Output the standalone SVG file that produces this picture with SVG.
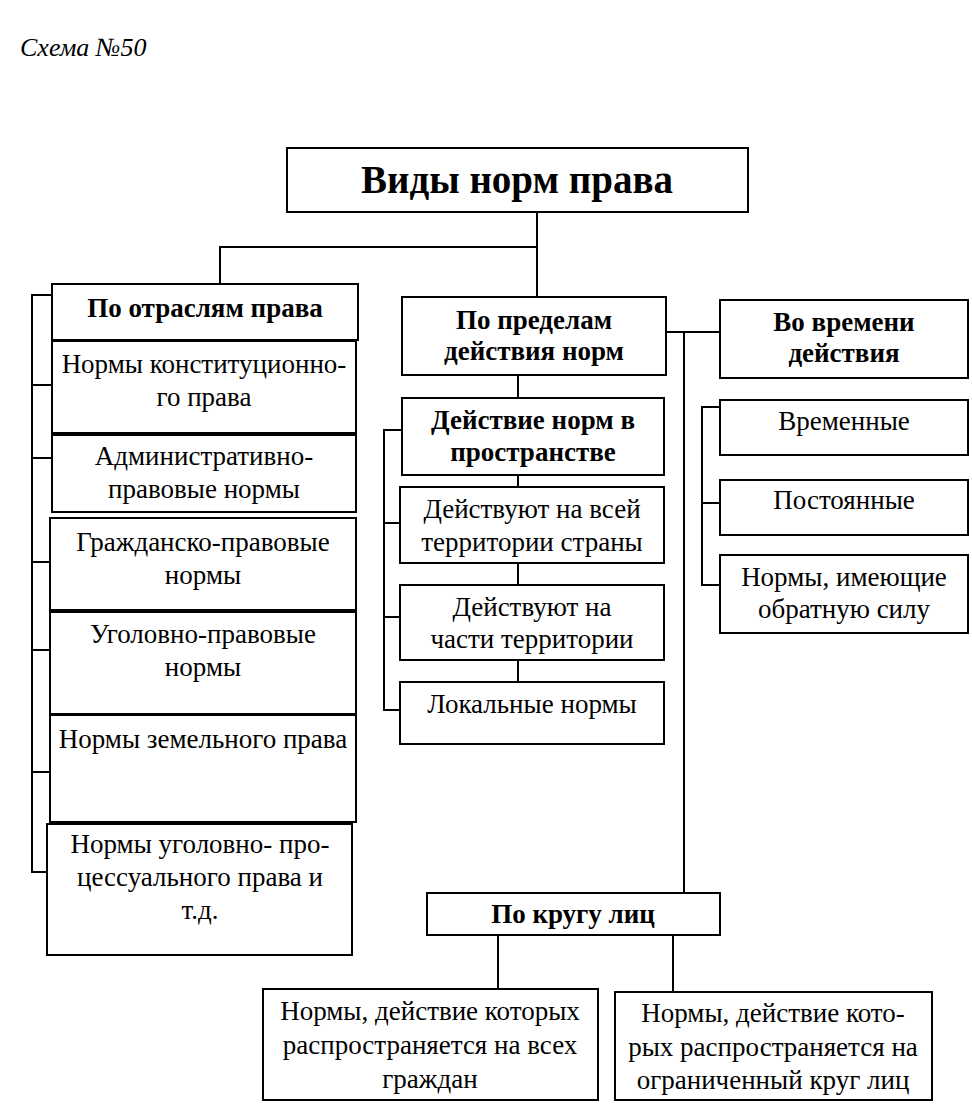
<svg xmlns="http://www.w3.org/2000/svg" width="972" height="1104" viewBox="0 0 972 1104">
<style>
.box{fill:#fff;stroke:#000;stroke-width:2}
.ln{fill:none;stroke:#000;stroke-width:2}
text{font-family:"Liberation Serif","Times New Roman",serif;fill:#000;text-anchor:middle}
.r{font-size:27px}
.b{font-size:27px;font-weight:bold}
.t{font-size:39px;font-weight:bold}
.cap{font-size:26px;font-style:italic;text-anchor:start}
</style>
<rect width="972" height="1104" fill="#fff"/>
<text class="cap" x="20" y="56">Схема №50</text>
<g id="connectors">
<path class="ln" d="M537 212V297M537 247H220V284"/>
<path class="ln" d="M52 295H32V872H50M32 385H52M32 458H52M32 562H50M32 650H50M32 772H50"/>
<path class="ln" d="M518 375V398M518 475V487M518 563V585M518 660V682"/>
<path class="ln" d="M402 430H384V710H402M384 523H402M384 617H402"/>
<path class="ln" d="M666 332H720M684 332V893"/>
<path class="ln" d="M720 407H702V585H720M702 503H720"/>
<path class="ln" d="M498 935V989M673 935V992"/>
</g>
<g id="n-main"><rect class="box" x="287" y="148" width="461" height="64"/><text class="t" x="517" y="193">Виды норм права</text></g>
<g id="n-otrasl"><rect class="box" x="52" y="284" width="306" height="56"/><text class="b" x="205" y="317">По отраслям права</text></g>
<g id="n-konst"><rect class="box" x="52" y="341" width="304" height="92"/><text class="r" x="204" y="373">Нормы конституционно-</text><text class="r" x="204" y="406">го права</text></g>
<g id="n-admin"><rect class="box" x="52" y="435" width="304" height="77"/><text class="r" x="204" y="465">Административно-</text><text class="r" x="204" y="498">правовые нормы</text></g>
<g id="n-grazhd"><rect class="box" x="50" y="518" width="306" height="92"/><text class="r" x="203" y="551">Гражданско-правовые</text><text class="r" x="203" y="584">нормы</text></g>
<g id="n-ugol"><rect class="box" x="50" y="612" width="306" height="102"/><text class="r" x="203" y="643">Уголовно-правовые</text><text class="r" x="203" y="676">нормы</text></g>
<g id="n-zemel"><rect class="box" x="50" y="715" width="306" height="107"/><text class="r" x="203" y="748">Нормы земельного права</text></g>
<g id="n-ugproc"><rect class="box" x="47" y="824" width="305" height="131"/><text class="r" x="200" y="853">Нормы уголовно- про-</text><text class="r" x="200" y="886">цессуального права и</text><text class="r" x="200" y="919">т.д.</text></g>
<g id="n-predel"><rect class="box" x="402" y="297" width="264" height="78"/><text class="b" x="534" y="329">По пределам</text><text class="b" x="534" y="360">действия норм</text></g>
<g id="n-prostr"><rect class="box" x="402" y="398" width="262" height="77"/><text class="b" x="533" y="429">Действие норм в</text><text class="b" x="533" y="461">пространстве</text></g>
<g id="n-vsei"><rect class="box" x="400" y="487" width="264" height="76"/><text class="r" x="532" y="518">Действуют на всей</text><text class="r" x="532" y="551">территории страны</text></g>
<g id="n-chasti"><rect class="box" x="400" y="585" width="264" height="75"/><text class="r" x="532" y="616">Действуют на</text><text class="r" x="532" y="648">части территории</text></g>
<g id="n-lokal"><rect class="box" x="400" y="682" width="264" height="62"/><text class="r" x="532" y="713">Локальные нормы</text></g>
<g id="n-vremeni"><rect class="box" x="720" y="300" width="248" height="78"/><text class="b" x="844" y="331">Во времени</text><text class="b" x="844" y="362">действия</text></g>
<g id="n-vremen"><rect class="box" x="720" y="400" width="248" height="55"/><text class="r" x="844" y="430">Временные</text></g>
<g id="n-postoyan"><rect class="box" x="720" y="480" width="248" height="55"/><text class="r" x="844" y="509">Постоянные</text></g>
<g id="n-obrat"><rect class="box" x="720" y="555" width="248" height="78"/><text class="r" x="844" y="586">Нормы, имеющие</text><text class="r" x="844" y="618">обратную силу</text></g>
<g id="n-krug"><rect class="box" x="427" y="893" width="293" height="42"/><text class="b" x="573" y="923">По кругу лиц</text></g>
<g id="n-vseh"><rect class="box" x="263" y="989" width="335" height="111"/><text class="r" x="430" y="1020">Нормы, действие которых</text><text class="r" x="430" y="1054">распространяется на всех</text><text class="r" x="430" y="1088">граждан</text></g>
<g id="n-ogran"><rect class="box" x="615" y="992" width="317" height="108"/><text class="r" x="773" y="1022">Нормы, действие кото-</text><text class="r" x="773" y="1056">рых распространяется на</text><text class="r" x="773" y="1089">ограниченный круг лиц</text></g>
</svg>
